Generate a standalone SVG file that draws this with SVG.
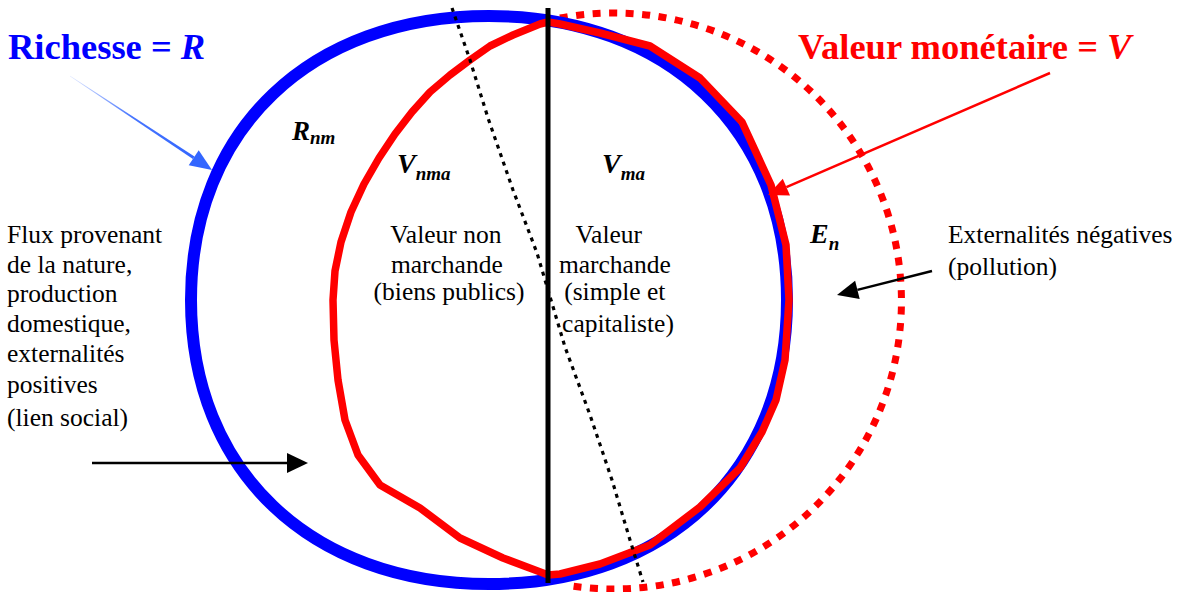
<svg xmlns="http://www.w3.org/2000/svg" width="1183" height="592" viewBox="0 0 1183 592">
<defs>
<style>
.t{font-family:"Liberation Serif","Times New Roman",serif;font-size:25.5px;fill:#000}
.title{font-family:"Liberation Serif","Times New Roman",serif;font-size:36.5px;font-weight:bold}
.lbl{font-family:"Liberation Serif","Times New Roman",serif;font-weight:bold;font-style:italic;fill:#000}
.sub{font-size:19px}
</style>
<linearGradient id="bg" x1="70" y1="76" x2="194" y2="158" gradientUnits="userSpaceOnUse">
<stop offset="0" stop-color="#3366FF" stop-opacity="0.15"/>
<stop offset="0.5" stop-color="#3366FF" stop-opacity="0.9"/>
<stop offset="1" stop-color="#3366FF"/>
</linearGradient>
</defs>
<rect width="1183" height="592" fill="#fff"/>

<g id="dotted-red-circle">
<path d="M560,18 A288,288 0 1 1 572,586" fill="none" stroke="#FF0000" stroke-width="7" stroke-dasharray="8 8.5"/>
</g>

<g id="richesse-circle">
<path d="M787,300 C787,470.4 667.8,584 489,584 C310.2,584 191,470.4 191,300 C191,129.6 310.2,16 489,16 C667.8,16 787,129.6 787,300 Z" fill="none" stroke="#0000FF" stroke-width="12"/>
</g>

<g id="valeur-monetaire-shape">
<polyline fill="none" stroke="#FF0000" stroke-width="7.5" stroke-linejoin="round" stroke-linecap="round" points="548,22 540,24 513,35 490,46 470,60 450,75 430,92 412,112 395,134 379,158 364,184 351,212 341,242 335,271 333,300 334,340 338,380 345,420 358,455 380,485 420,508 460,538 503,558 543,573 548,575 560,574 600,564 650,545 700,507 740,468 762,432 776,400 785,360 789,300 786,245 771,185 742,122 700,78 650,46 600,33 560,24 548,22"/>
</g>

<g id="dotted-black-line">
<polyline fill="none" stroke="#000" stroke-width="3.2" stroke-dasharray="4 5" points="452,8 470,60 488,118 513,190 537,253 548,290 565,347 590,415 612,480 630,540 643,582"/>
</g>

<g id="axis">
<line x1="548" y1="8" x2="548" y2="583" stroke="#000" stroke-width="5"/>
</g>

<g id="connectors">
<polygon points="69.9,76.2 70.1,75.8 194.5,156.6 192.9,159" fill="url(#bg)"/>
<polygon points="212,170 188.7,165.3 198.7,150.3" fill="#3366FF"/>
<line x1="1050" y1="73" x2="786.4" y2="187.1" stroke="#FF0000" stroke-width="2.5"/>
<polygon points="768,195 790,195.4 782.8,178.8" fill="#FF0000"/>
<line x1="92" y1="463" x2="288" y2="463" stroke="#000" stroke-width="2.5"/>
<polygon points="308,463 287,453 287,473" fill="#000"/>
<line x1="932" y1="271" x2="857.4" y2="289.9" stroke="#000" stroke-width="2.5"/>
<polygon points="837,295 859.7,299.1 855.1,280.7" fill="#000"/>
</g>

<g id="title-richesse">
<text x="8" y="59" class="title" fill="#0000FF">Richesse = <tspan font-style="italic">R</tspan></text>
</g>
<g id="title-valeur">
<text x="798" y="59" class="title" fill="#FF0000">Valeur monétaire = <tspan font-style="italic">V</tspan></text>
</g>

<g id="label-rnm"><text x="292" y="140" class="lbl" font-size="27">R<tspan class="sub" dy="4">nm</tspan></text></g>
<g id="label-vnma"><text x="397" y="173" class="lbl" font-size="28">V<tspan class="sub" dy="7">nma</tspan></text></g>
<g id="label-vma"><text x="602" y="173" class="lbl" font-size="28">V<tspan class="sub" dy="7">ma</tspan></text></g>
<g id="label-en"><text x="810" y="243" class="lbl" font-size="28">E<tspan class="sub" dy="7">n</tspan></text></g>

<g id="text-flux">
<text class="t" x="7">
<tspan x="7" y="243">Flux provenant</tspan>
<tspan x="7" y="273">de la nature,</tspan>
<tspan x="7" y="302">production</tspan>
<tspan x="7" y="332">domestique,</tspan>
<tspan x="7" y="362">externalités</tspan>
<tspan x="7" y="393">positives</tspan>
<tspan x="7" y="426">(lien social)</tspan>
</text>
</g>

<g id="text-non-marchande">
<text class="t" text-anchor="middle">
<tspan x="449" y="243">Valeur non</tspan>
<tspan x="450" y="273">marchande</tspan>
<tspan x="449" y="300">(biens publics)</tspan>
</text>
</g>

<g id="text-marchande">
<text class="t" text-anchor="middle">
<tspan x="612" y="243">Valeur</tspan>
<tspan x="618" y="273">marchande</tspan>
<tspan x="618" y="300">(simple et</tspan>
<tspan x="618" y="332">capitaliste)</tspan>
</text>
</g>

<g id="text-externalites">
<text class="t">
<tspan x="948" y="243">Externalités négatives</tspan>
<tspan x="948" y="275">(pollution)</tspan>
</text>
</g>
</svg>
